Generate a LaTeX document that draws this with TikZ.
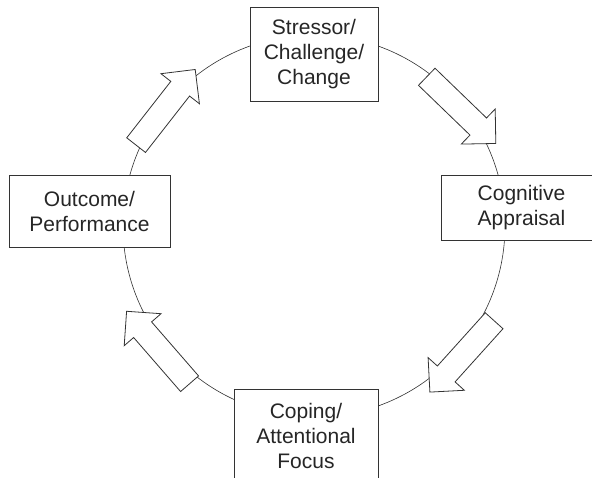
\documentclass[tikz,border=0pt]{standalone}
\usepackage{fontspec}
\setmainfont{Liberation Sans}
\usetikzlibrary{shapes.arrows}
\tikzset{stage/.style={draw=black!80,line width=0.9pt,fill=white,align=center,
    inner sep=0pt,text=black!85,font=\fontsize{21}{25}\selectfont}}
\tikzset{blockarrow/.style={single arrow,draw=black!80,line width=0.8pt,fill=white,
    inner xsep=0pt,inner ysep=11.5pt,minimum height=96pt,
    single arrow head extend=12.5pt,single arrow tip angle=90,
    single arrow head indent=0pt}}
\newcommand{\cyclering}{
    \draw[black!80,line width=0.6pt] (0,0) circle (191);
}

\begin{document}
\begin{tikzpicture}[x=1pt,y=1pt]
        \useasboundingbox (-314,-251) rectangle (278,226);
        \cyclering

        \node[stage,minimum width=128pt,minimum height=94pt] (strs) at (0,172)
            {Stressor/\\Challenge/\\Change};
        \node[stage,minimum width=160pt,minimum height=65pt] (appr) at (207.5,18.5)
            {Cognitive\\Appraisal};
        \node[stage,minimum width=144pt,minimum height=94pt] (cope) at (-8,-210)
            {Coping/\\Attentional\\Focus};
        \node[stage,minimum width=161pt,minimum height=72pt] (outc) at (-224.5,15)
            {Outcome/\\Performance};

        \foreach \pos/\dir/\name in {{(-152,114)}/52/toStrs,{(143,120)}/-44/toAppr,
                {(152,-126)}/-132/toCope,{(-152,-126)}/131/toOutc}
            \node[blockarrow,rotate=\dir] (\name) at \pos {};
    \end{tikzpicture}
\end{document}
